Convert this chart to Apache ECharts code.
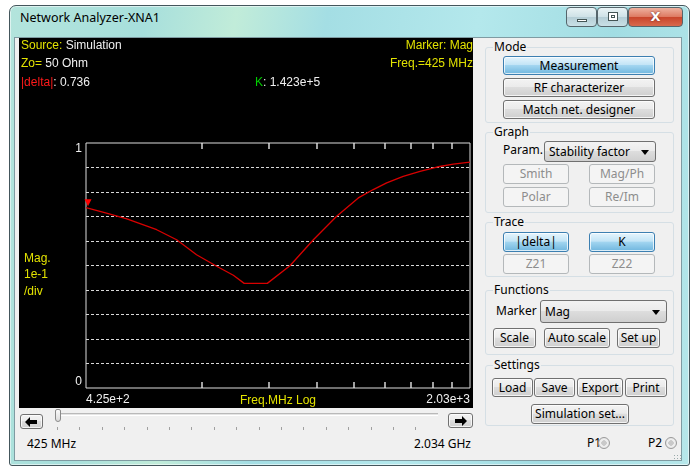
<!DOCTYPE html>
<html>
<head>
<meta charset="utf-8">
<title>Network Analyzer-XNA1</title>
<script src="https://cdn.jsdelivr.net/npm/echarts@6/dist/echarts.min.js"></script>
<style>
  html, body { margin: 0; padding: 0; width: 694px; height: 468px; overflow: hidden; background: #fff;
    font-family: "Noto Sans", "Open Sans", sans-serif; font-size: 12px; }
  .abs { position: absolute; box-sizing: border-box; }
  .win { left: 9px; top: 5px; width: 681px; height: 461px; border: 1px solid #44565c; border-radius: 7px 7px 3px 3px;
    background: linear-gradient(100deg, #b3e4dc 0%, #a7dfdc 18%, #c1ecd9 30%, #a4dee4 42%, #b4e8ec 62%, #a2dde3 80%, #b6e7ea 100%);
    box-shadow: inset 0 0 0 1px rgba(255,255,255,0.55); }
  .title { left: 20px; top: 9px; font-size: 12.5px; color: #000; white-space: nowrap; }
  .cap { top: 7px; height: 20px; border: 1px solid #55656b; border-radius: 4px;
    background: linear-gradient(#e9f3f5 0%, #cfe2e7 48%, #b5ced6 52%, #c9e0e6 100%); }
  .cap.close { background: linear-gradient(#eeb19f 0%, #de7b63 48%, #c9452b 52%, #d86a4d 100%); }
  .client { left: 14px; top: 37px; width: 668px; height: 424px; background: #f0f0f0; border: 1px solid #7f9ba2; }
  #chart { position: absolute; left: 19px; top: 38px; width: 454px; height: 370px; background: #000; }
  .grp { border: 1px solid #d5dfe5; border-radius: 3px; }
  .grp span { position: absolute; left: 7px; top: -10px; background: #f0f0f0; padding: 0 1px; line-height: 17px; color: #000; }
  .btn { border: 1px solid #707070; border-radius: 3px; display: flex; align-items: center; justify-content: center;
    white-space: nowrap; color: #000; line-height: 1;
    background: linear-gradient(#f3f3f3 0%, #ebebeb 46%, #dddddd 50%, #cfcfcf 100%);
    box-shadow: inset 0 0 0 1px rgba(255,255,255,0.75); }
  .btn.on { border-color: #3c7fb1; background: linear-gradient(#e6f5fd 0%, #c2e4f6 46%, #a2d5f0 50%, #6fb6de 100%); }
  .btn.off { border-color: #b4b8ba; background: #f4f4f4; color: #8d8d8d; box-shadow: none; }
  .combo { border: 1px solid #707070; border-radius: 3px; display: flex; align-items: center; padding-left: 4px;
    white-space: nowrap; background: linear-gradient(#f3f3f3 0%, #ebebeb 46%, #dddddd 50%, #cfcfcf 100%); }
  .combo::after { content: ""; position: absolute; right: 6px; top: 50%; margin-top: -2px;
    border-left: 4px solid transparent; border-right: 4px solid transparent; border-top: 5px solid #000; }
  .lbl { white-space: nowrap; color: #000; }
  .track { left: 55px; top: 413px; width: 383px; height: 3px; border-top: 1px solid #b9b9b9; border-bottom: 1px solid #fff; background: #e4e4e4; }
  .thumb { left: 55px; top: 409px; width: 6px; height: 13px; border: 1px solid #8a8a8a; border-radius: 2px 2px 3px 3px;
    background: linear-gradient(#fafafa, #dcdcdc); }
  .ticks { left: 57px; top: 427px; width: 381px; height: 3px;
    background: repeating-linear-gradient(90deg, #a0a0a0 0px, #a0a0a0 1px, transparent 1px, transparent 22.4px); }
  .radio { width: 12px; height: 12px; border-radius: 50%; border: 1px solid #9a9a9a;
    background: radial-gradient(circle, #c9c9c9 0 2.5px, #f2f2f2 3px, #dadada 100%); }
  .grip { left: 673px; top: 454px; width: 8px; height: 6px;
    background: radial-gradient(circle, #9aa 0 0.8px, transparent 1px) 0 0 / 3px 3px; }
</style>
</head>
<body>
<div class="abs win"></div>
<div class="abs title">Network Analyzer-XNA1</div>
<div class="abs cap" style="left:566px;width:31px;"><div class="abs" style="left:10px;top:11px;width:10px;height:3px;background:#fff;border:1px solid #455;"></div></div>
<div class="abs cap" style="left:597px;width:31px;"><div class="abs" style="left:10px;top:4px;width:10px;height:9px;border:1px solid #455;background:#fff;box-shadow:inset 0 0 0 2px #fff, inset 0 0 0 3px #455;"></div></div>
<div class="abs cap close" style="left:628px;width:55px;"><div class="abs" style="left:0;top:0;width:53px;height:18px;color:#fff;font:bold 13px 'DejaVu Sans',sans-serif;text-align:center;line-height:18px;text-shadow:0 0 2px #622;">X</div></div>

<div class="abs client"></div>
<div id="chart"></div>

<!-- right-hand control panel -->
<div class="abs grp" style="left:485px;top:47px;width:189px;height:76px;"><span>Mode</span></div>
<div class="abs btn on" style="left:503px;top:56px;width:152px;height:19px;">Measurement</div>
<div class="abs btn" style="left:503px;top:78px;width:152px;height:19px;">RF characterizer</div>
<div class="abs btn" style="left:503px;top:100px;width:152px;height:19px;">Match net. designer</div>

<div class="abs grp" style="left:485px;top:132px;width:189px;height:81px;"><span>Graph</span></div>
<div class="abs lbl" style="left:503px;top:141px;line-height:18px;">Param.</div>
<div class="abs combo" style="left:544px;top:141px;width:112px;height:21px;">Stability factor</div>
<div class="abs btn off" style="left:503px;top:164px;width:66px;height:20px;">Smith</div>
<div class="abs btn off" style="left:589px;top:164px;width:66px;height:20px;">Mag/Ph</div>
<div class="abs btn off" style="left:503px;top:187px;width:66px;height:20px;">Polar</div>
<div class="abs btn off" style="left:589px;top:187px;width:66px;height:20px;">Re/Im</div>

<div class="abs grp" style="left:485px;top:222px;width:189px;height:55px;"><span>Trace</span></div>
<div class="abs btn on" style="left:503px;top:232px;width:66px;height:20px;">|delta|</div>
<div class="abs btn on" style="left:589px;top:232px;width:66px;height:20px;">K</div>
<div class="abs btn off" style="left:503px;top:254px;width:66px;height:20px;">Z21</div>
<div class="abs btn off" style="left:589px;top:254px;width:66px;height:20px;">Z22</div>

<div class="abs grp" style="left:485px;top:290px;width:189px;height:65px;"><span>Functions</span></div>
<div class="abs lbl" style="left:496px;top:302px;line-height:18px;">Marker</div>
<div class="abs combo" style="left:540px;top:300px;width:127px;height:23px;">Mag</div>
<div class="abs btn" style="left:493px;top:328px;width:43px;height:20px;">Scale</div>
<div class="abs btn" style="left:544px;top:328px;width:66px;height:20px;">Auto scale</div>
<div class="abs btn" style="left:617px;top:328px;width:43px;height:20px;">Set up</div>

<div class="abs grp" style="left:485px;top:365px;width:189px;height:61px;"><span>Settings</span></div>
<div class="abs btn" style="left:492px;top:378px;width:41px;height:19px;">Load</div>
<div class="abs btn" style="left:534px;top:378px;width:41px;height:19px;">Save</div>
<div class="abs btn" style="left:577px;top:378px;width:46px;height:19px;">Export</div>
<div class="abs btn" style="left:625px;top:378px;width:42px;height:19px;">Print</div>
<div class="abs btn" style="left:531px;top:404px;width:98px;height:20px;">Simulation set...</div>

<!-- frequency span slider -->
<div class="abs btn" style="left:20px;top:414px;width:23px;height:15px;">
  <svg width="13" height="10" viewBox="0 0 13 10"><path d="M0 5 L5 0 L5 3 L12 3 L12 7 L5 7 L5 10 Z" fill="#000"/></svg></div>
<div class="abs btn" style="left:448px;top:413px;width:25px;height:15px;">
  <svg width="13" height="10" viewBox="0 0 13 10"><path d="M13 5 L8 0 L8 3 L1 3 L1 7 L8 7 L8 10 Z" fill="#000"/></svg></div>
<div class="abs track"></div>
<div class="abs ticks"></div>
<div class="abs thumb"></div>
<div class="abs lbl" id="fmin" style="left:27px;top:435px;line-height:18px;"></div>
<div class="abs lbl" id="fmax" style="left:370px;width:101px;text-align:right;top:435px;line-height:18px;"></div>
<div class="abs lbl" style="left:587px;top:434px;line-height:18px;">P1</div>
<div class="abs radio" style="left:598px;top:437px;"></div>
<div class="abs lbl" style="left:648px;top:434px;line-height:18px;">P2</div>
<div class="abs radio" style="left:665px;top:437px;"></div>
<div class="abs grip"></div>

<script>
// Sweep range (MHz) and the |delta| magnitude of the simulated device
const FREQ_MIN = 425;
const FREQ_MAX = 2034;
const FREQ_MHZ = [425, 462, 502, 567, 615, 667, 724, 775, 810, 890, 976, 1074, 1181, 1290, 1371, 1448, 1549, 1659, 1777, 1900, 2034];
const DELTA_MAG = [0.736, 0.714, 0.690, 0.646, 0.605, 0.544, 0.497, 0.460, 0.427, 0.427, 0.499, 0.605, 0.701, 0.776, 0.810, 0.837, 0.864, 0.884, 0.902, 0.914, 0.922];
const K_AT_MARKER = '1.423e+5';
const X_END_LABELS = ['4.25e+2', '2.03e+3'];
const Y_END_LABELS = ['0', '1'];

const YELLOW = '#e2e200';
const WHITE = '#f0f0f0';
const FRAME = '#dcdcdc';
const FONT = 'Liberation Sans';

document.getElementById('fmin').textContent = FREQ_MIN + ' MHz';
document.getElementById('fmax').textContent = (FREQ_MAX / 1000).toFixed(3) + ' GHz';

// The analyser marks its frequency axis with a one-decade pattern (log10 of 2..9)
// stretched across the full sweep width, on both the top and bottom edge.
const decadeTicks = [2, 3, 4, 5, 6, 7, 8, 9].map(k => Math.log10(k));
const TICK_LEN = 6;

const markerMag = DELTA_MAG[0];

function renderEdgeTick(params, api) {
  const x = Math.round(api.coord([api.value(0), 0])[0]);
  const yBottom = api.coord([0, 0])[1];
  const yTop = api.coord([0, 1])[1];
  return {
    type: 'group',
    children: [
      { type: 'line', shape: { x1: x, y1: yBottom, x2: x, y2: yBottom - TICK_LEN }, style: { stroke: '#e6e6e6', lineWidth: 1.4 } },
      { type: 'line', shape: { x1: x, y1: yTop, x2: x, y2: yTop + TICK_LEN }, style: { stroke: '#e6e6e6', lineWidth: 1.4 } }
    ]
  };
}

const chart = echarts.init(document.getElementById('chart'), null, { renderer: 'canvas' });
chart.setOption({
  backgroundColor: '#000',
  animation: false,
  textStyle: { fontFamily: FONT },
  grid: {
    left: 67, right: 3, top: 105, bottom: 20,
    outerBoundsMode: 'none', containLabel: false,
    show: true, borderColor: FRAME, borderWidth: 1, backgroundColor: 'transparent'
  },
  xAxis: [
    { // data axis: logarithmic frequency
      type: 'log', min: FREQ_MIN, max: FREQ_MAX, position: 'bottom',
      axisLine: { show: false }, axisTick: { show: false }, axisLabel: { show: false }, splitLine: { show: false }
    },
    { // sweep fraction: end labels and axis caption
      type: 'value', min: 0, max: 1, position: 'bottom',
      axisLine: { show: false }, axisTick: { show: false },
      axisLabel: {
        show: true, customValues: [0, 1], color: WHITE, fontSize: 12, fontFamily: FONT, margin: 6,
        alignMinLabel: 'left', alignMaxLabel: 'right',
        formatter: v => (v === 0 ? X_END_LABELS[0] : X_END_LABELS[1])
      },
      splitLine: { show: false },
      name: 'Freq.MHz Log', nameLocation: 'middle', nameGap: 7, nameMoveOverlap: false,
      nameTextStyle: { color: YELLOW, fontSize: 12, fontFamily: FONT, verticalAlign: 'top' }
    }
  ],
  yAxis: {
    type: 'value', min: 0, max: 1, interval: 0.1,
    axisLine: { show: false }, axisTick: { show: false },
    axisLabel: {
      color: WHITE, fontSize: 12, fontFamily: FONT, margin: 4,
      verticalAlignMinLabel: 'bottom', verticalAlignMaxLabel: 'top',
      formatter: v => (v === 0 ? Y_END_LABELS[0] : (v === 1 ? Y_END_LABELS[1] : ''))
    },
    splitLine: { show: true, showMinLine: false, showMaxLine: false, lineStyle: { color: '#d8d8d8', type: [3, 2], width: 1 } }
  },
  series: [
    {
      name: '|delta|', type: 'line', xAxisIndex: 0, yAxisIndex: 0,
      data: FREQ_MHZ.map((f, i) => [f, DELTA_MAG[i]]),
      showSymbol: false, symbol: 'none', smooth: false,
      lineStyle: { color: '#d80000', width: 1.3 },
      markPoint: {
        symbol: 'triangle', symbolRotate: 180, symbolSize: [7, 7], symbolOffset: [2, -5],
        itemStyle: { color: '#ff0000' }, label: { show: false },
        data: [{ coord: [FREQ_MIN, markerMag] }]
      }
    },
    {
      name: 'edge ticks', type: 'custom', xAxisIndex: 1, yAxisIndex: 0, silent: true, clip: false, z: 5,
      data: decadeTicks.map(v => [v, 0]),
      renderItem: renderEdgeTick
    }
  ],
  graphic: [
    { type: 'text', left: 2, top: 2, style: { text: '{y|Source:} {w|Simulation}', font: '12px ' + FONT,
        rich: { y: { fill: YELLOW, font: '12px ' + FONT }, w: { fill: WHITE, font: '12px ' + FONT } } } },
    { type: 'text', left: 2, top: 20, style: { text: '{y|Zo=} {w|50 Ohm}', font: '12px ' + FONT,
        rich: { y: { fill: YELLOW, font: '12px ' + FONT }, w: { fill: WHITE, font: '12px ' + FONT } } } },
    { type: 'text', left: 2, top: 39, style: { text: '{r||delta|}{w|: ' + markerMag.toFixed(3) + '}', font: '12px ' + FONT,
        rich: { r: { fill: '#ff1a1a', font: '12px ' + FONT }, w: { fill: WHITE, font: '12px ' + FONT } } } },
    { type: 'text', left: 236, top: 39, style: { text: '{g|K}{w|: ' + K_AT_MARKER + '}', font: '12px ' + FONT,
        rich: { g: { fill: '#00d000', font: '12px ' + FONT }, w: { fill: WHITE, font: '12px ' + FONT } } } },
    { type: 'text', right: 0, top: 2, style: { text: 'Marker: Mag', fill: YELLOW, font: '12px ' + FONT } },
    { type: 'text', right: 0, top: 20, style: { text: 'Freq.=' + FREQ_MIN + ' MHz', fill: YELLOW, font: '12px ' + FONT } },
    { type: 'text', left: 5, top: 212, style: { text: 'Mag.\n1e-1\n/div', fill: YELLOW, font: '12px ' + FONT, lineHeight: 16.5 } }
  ]
});
</script>
</body>
</html>
